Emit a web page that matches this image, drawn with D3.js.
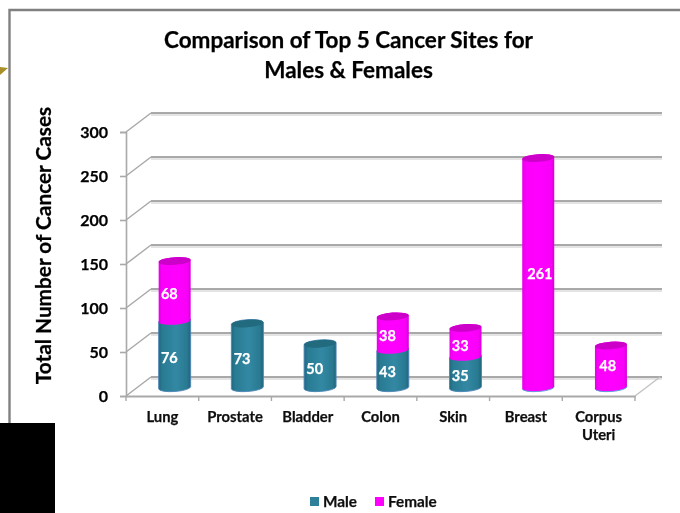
<!DOCTYPE html>
<html><head><meta charset="utf-8">
<style>html,body{margin:0;padding:0;background:#fff}svg{display:block}text{font-family:Lato,"Open Sans",sans-serif;font-weight:700;stroke:currentColor;stroke-width:.25px}</style>
<script src="https://cdn.jsdelivr.net/npm/d3@7"></script></head><body>
<script>
const categories=["Lung","Prostate","Bladder","Colon","Skin","Breast","Corpus Uteri"];
const male=[76,73,50,43,35,0,0];
const female=[68,0,0,38,33,261,48];
const yTicks=[0,50,100,150,200,250,300];
const seriesNames=["Male","Female"];
const titleLines=["Comparison of Top 5 Cancer Sites for","Males & Females"];
const yTitle="Total Number of Cancer Cases";

const W=680,H=513;
const svg=d3.select("body").append("svg").attr("width",W).attr("height",H);
const defs=svg.append("defs");
defs.append("filter").attr("id","soft").attr("x","-5%").attr("y","-5%").attr("width","110%").attr("height","110%")
  .append("feGaussianBlur").attr("stdDeviation",0.45);
function grad(id,stops){
  const g=defs.append("linearGradient").attr("id",id);
  stops.forEach(s=>g.append("stop").attr("offset",s[0]).attr("stop-color",s[1]));
}
grad("gM",[[0,"#20687f"],[.12,"#2a7b93"],[.55,"#3288a3"],[.88,"#2a7a92"],[1,"#1f667c"]]);
grad("gF",[[0,"#e600e6"],[.12,"#fb00fb"],[.55,"#ff00ff"],[.9,"#f800f8"],[1,"#d800d8"]]);

const root=svg.append("g").attr("filter","url(#soft)");
const x=d3.scaleBand().domain(categories).range([126,635]);
const y=d3.scaleLinear().domain([0,300]).range([396,132]);
const dx=25,dy=-19;
const gridC="#a9a9a9";

// slide frame and page furniture
root.append("path").attr("d","M9.5,423V10H680").attr("fill","none").attr("stroke","#808080").attr("stroke-width",2.4);
root.append("path").attr("d","M0,67L8,68L0,75Z").attr("fill","#a98f2a");
svg.append("rect").attr("x",0).attr("y",423).attr("width",55).attr("height",90).attr("fill","#000");

// walls
const wall=root.append("g").attr("fill","none").attr("stroke",gridC);
wall.selectAll(".shadow").data(yTicks).join("line").attr("class","shadow")
  .attr("x1",126+dx).attr("x2",635+dx+2).attr("y1",d=>y(d)+dy+2).attr("y2",d=>y(d)+dy+2)
  .attr("stroke","#e4e4e4").attr("stroke-width",2);
wall.selectAll(".back").data(yTicks).join("line").attr("class","back")
  .attr("x1",126+dx).attr("x2",635+dx+2).attr("y1",d=>y(d)+dy).attr("y2",d=>y(d)+dy).attr("stroke-width",2);
wall.selectAll(".side").data(yTicks).join("line").attr("class","side")
  .attr("x1",126).attr("x2",126+dx).attr("y1",d=>y(d)).attr("y2",d=>y(d)+dy).attr("stroke-width",1.5);
wall.append("line").attr("x1",635).attr("x2",635+dx).attr("y1",y(0)).attr("y2",y(0)+dy).attr("stroke","#c4c4c4").attr("stroke-width",1.5);

// axes
const ax=root.append("g").attr("transform","translate(126,0)")
  .call(d3.axisLeft(y).tickValues(yTicks).tickSize(6).tickPadding(12));
const bx=root.append("g").attr("transform","translate(0,396)")
  .call(d3.axisBottom(x).tickValues([]).tickSize(0));
ax.selectAll("path,line").attr("stroke",gridC).attr("stroke-width",1.6);
ax.selectAll("text").attr("font-size",16).attr("fill","#000").attr("font-family","Lato");
bx.select("path").attr("stroke",gridC).attr("stroke-width",2);
const edges=x.domain().map(d=>x(d)).concat([635]);
root.append("g").selectAll("line").data(edges).join("line")
  .attr("x1",d=>d).attr("x2",d=>d).attr("y1",396).attr("y2",401).attr("stroke",gridC).attr("stroke-width",1.4);
root.append("g").selectAll("text").data(categories).join("text")
  .attr("x",d=>x(d)+x.bandwidth()/2).attr("y",422).attr("text-anchor","middle")
  .attr("font-size",14.8).attr("fill","#111").style("color","#111")
  .each(function(d){
    const parts=d==="Corpus Uteri"?d.split(" "):[d];
    d3.select(this).selectAll("tspan").data(parts).join("tspan")
      .attr("x",x(d)+x.bandwidth()/2).attr("dy",(p,i)=>i?18:0).text(p=>p);
  });

// cylinders
const rx=16,ry=3.8,tilt=-4,s=1.1;
const cx=c=>x(c)+x.bandwidth()/2+dx/2-0.2;
const yy=v=>y(v)+dy/2+1.2;
function body(c,a,b){
  const l=cx(c)-rx,r=cx(c)+rx;
  return `M${l},${yy(a)+s}A${rx},${ry} ${tilt} 0 0 ${r},${yy(a)-s}L${r},${yy(b)-s}A${rx},${ry} ${tilt} 0 0 ${l},${yy(b)+s}Z`;
}
function cap(c,b){
  const l=cx(c)-rx,r=cx(c)+rx;
  return `M${l},${yy(b)+s}A${rx},${ry} ${tilt} 0 1 ${r},${yy(b)-s}A${rx},${ry} ${tilt} 0 1 ${l},${yy(b)+s}Z`;
}
const segs=[];
categories.forEach((c,i)=>{
  if(male[i]>0)segs.push({c,a:0,b:male[i],v:male[i],k:"M",top:female[i]===0});
  if(female[i]>0)segs.push({c,a:male[i],b:male[i]+female[i],v:female[i],k:"F",top:true});
});
const bars=root.append("g");
bars.selectAll(".body").data(segs).join("path").attr("class","body")
  .attr("d",d=>body(d.c,d.a,d.b)).attr("fill",d=>`url(#g${d.k})`)
  .attr("stroke",d=>d.k==="M"?"#4f86b8":"none").attr("stroke-width",.9);
bars.selectAll(".cap").data(segs.filter(d=>d.top)).join("path").attr("class","cap")
  .attr("d",d=>cap(d.c,d.b)).attr("fill",d=>d.k==="M"?"#226a7e":"#cc00c8");
bars.selectAll(".base").data(segs.filter(d=>d.k==="F"&&d.a===0)).join("path").attr("class","base")
  .attr("d",d=>{const l=cx(d.c)-rx,r=cx(d.c)+rx;return `M${l},${yy(0)+s}A${rx},${ry} ${tilt} 0 0 ${r},${yy(0)-s}`;})
  .attr("fill","none").attr("stroke","#5f9fd8").attr("stroke-width",1);

// value labels
const labelNudge={Breast:[7,-2],"Corpus Uteri":[2,-4]};
root.append("g").selectAll("text").data(segs).join("text")
  .attr("x",d=>x(d.c)+x.bandwidth()/2+7+((labelNudge[d.c]||[0,0])[0]))
  .attr("y",d=>y((d.a+d.b)/2)+((labelNudge[d.c]||[0,0])[1]))
  .attr("text-anchor","middle").attr("font-size",14.5).attr("fill","#fff").style("color","#fff").text(d=>d.v);

// titles
root.append("g").selectAll("text").data(titleLines).join("text")
  .attr("x",348.5).attr("y",(d,i)=>48+i*30).attr("text-anchor","middle")
  .attr("font-size",22.5).attr("fill","#000").text(d=>d);
root.append("text").attr("transform","translate(50.5,245.5) rotate(-90)").attr("text-anchor","middle")
  .attr("font-size",20.8).attr("fill","#000").text(yTitle);

// legend
const legendX=d3.scaleOrdinal().domain(seriesNames).range([310,375]);
const legendC=d3.scaleOrdinal().domain(seriesNames).range(["#2f7f99","#ff00ff"]);
const lg=root.append("g").selectAll("g").data(seriesNames).join("g").attr("transform",d=>`translate(${legendX(d)},497)`);
lg.append("rect").attr("width",9).attr("height",9).attr("fill",d=>legendC(d));
lg.append("text").attr("x",13).attr("y",9.5).attr("font-size",15.3).attr("fill","#111").style("color","#111").text(d=>d);
</script></body></html>
